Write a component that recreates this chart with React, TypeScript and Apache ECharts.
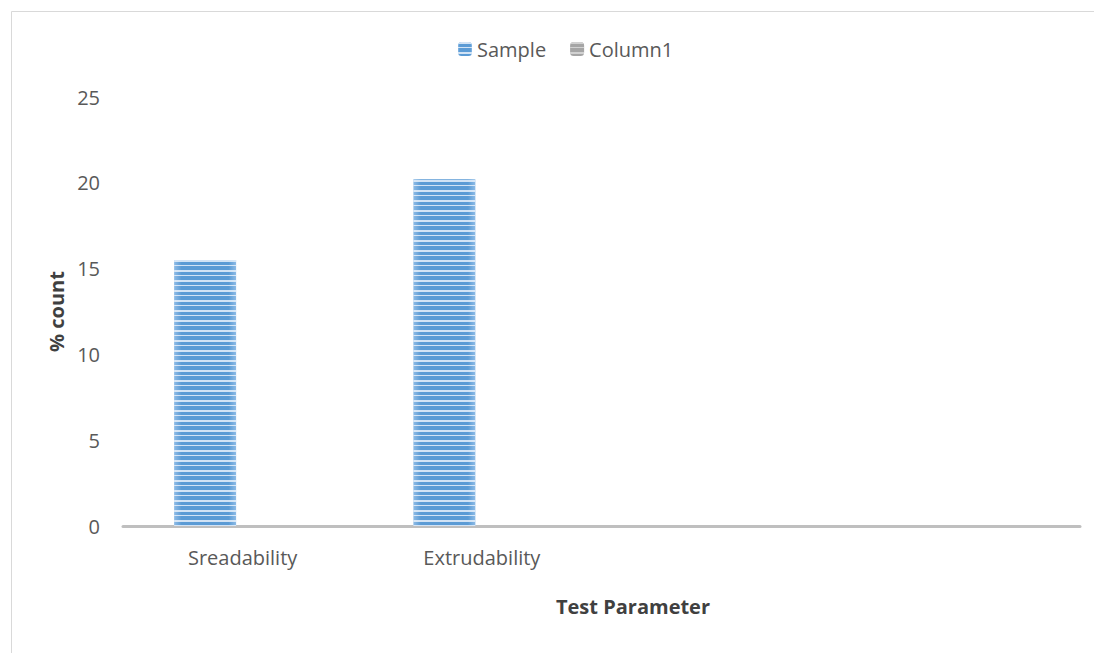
import React, { useEffect, useRef } from "react";
import * as echarts from "echarts";

const categories = ["Sreadability", "Extrudability", "", ""];
const sampleValues = [15.5, 20.2, null, null];
const column1Values = [null, null, null, null];
const yTicks = { min: 0, max: 25, interval: 5 };

export default function App() {
  const ref = useRef<HTMLDivElement>(null);
  useEffect(() => {
    document.body.style.margin = "0";
    const chart = echarts.init(ref.current!, null, { renderer: "svg" });
    const font = "'Open Sans', 'Liberation Sans', sans-serif";
    const blueFill = {
      type: "linear",
      x: 0, y: 0, x2: 1, y2: 0,
      colorStops: [
        { offset: 0, color: "#8dbbe6" },
        { offset: 0.12, color: "#5b9bd5" },
        { offset: 0.88, color: "#5b9bd5" },
        { offset: 1, color: "#8dbbe6" },
      ],
    };
    const stripeDecal = {
      symbol: "rect",
      symbolSize: 1,
      dashArrayX: [1, 0],
      dashArrayY: [2, 3, 1, 4],
      rotation: 0,
      color: "rgba(230,240,250,0.85)",
    };
    chart.setOption({
      animation: false,
      aria: { enabled: false },
      grid: { left: 123, right: 14, top: 97, bottom: 127 },
      legend: {
        top: 34,
        left: 453,
        itemWidth: 14,
        itemHeight: 14,
        itemGap: 24,
        textStyle: { fontFamily: font, fontSize: 20, color: "#595959" },
        data: ["Sample", "Column1"],
      },
      xAxis: {
        type: "category",
        data: categories,
        axisLine: { lineStyle: { color: "#bfbfbf", width: 3 } },
        axisTick: { show: false },
        axisLabel: { fontFamily: font, fontSize: 20, color: "#595959", margin: 21 },
      },
      yAxis: {
        type: "value",
        min: yTicks.min,
        max: yTicks.max,
        interval: yTicks.interval,
        axisLine: { show: false },
        axisTick: { show: false },
        splitLine: { show: false },
        axisLabel: { fontFamily: font, fontSize: 20, color: "#595959", margin: 23 },
        name: "% count",
        nameLocation: "middle",
        nameGap: 57,
        nameTextStyle: { fontFamily: font, fontSize: 20, fontWeight: "bold", color: "#404040" },
      },
      graphic: [
        {
          type: "rect",
          shape: { x: 11.5, y: 11.5, width: 1100, height: 700 },
          style: { fill: "none", stroke: "#d9d9d9", lineWidth: 1 },
          silent: true,
        },
        {
          type: "text",
          x: 633,
          y: 606,
          style: {
            text: "Test Parameter",
            font: `bold 20px ${font}`,
            fill: "#404040",
            align: "center",
            verticalAlign: "middle",
          },
        },
      ],
      series: [
        {
          name: "Sample",
          type: "bar",
          data: sampleValues,
          barWidth: 62,
          barGap: "21%",
          itemStyle: { color: blueFill, decal: stripeDecal },
        },
        {
          name: "Column1",
          type: "bar",
          data: column1Values,
          barWidth: 62,
          itemStyle: { color: "#a5a5a5", decal: { ...stripeDecal, color: "rgba(220,220,220,0.8)" } },
        },
      ],
    });
    return () => chart.dispose();
  }, []);
  return <div ref={ref} style={{ width: 1094, height: 653 }} />;
}
